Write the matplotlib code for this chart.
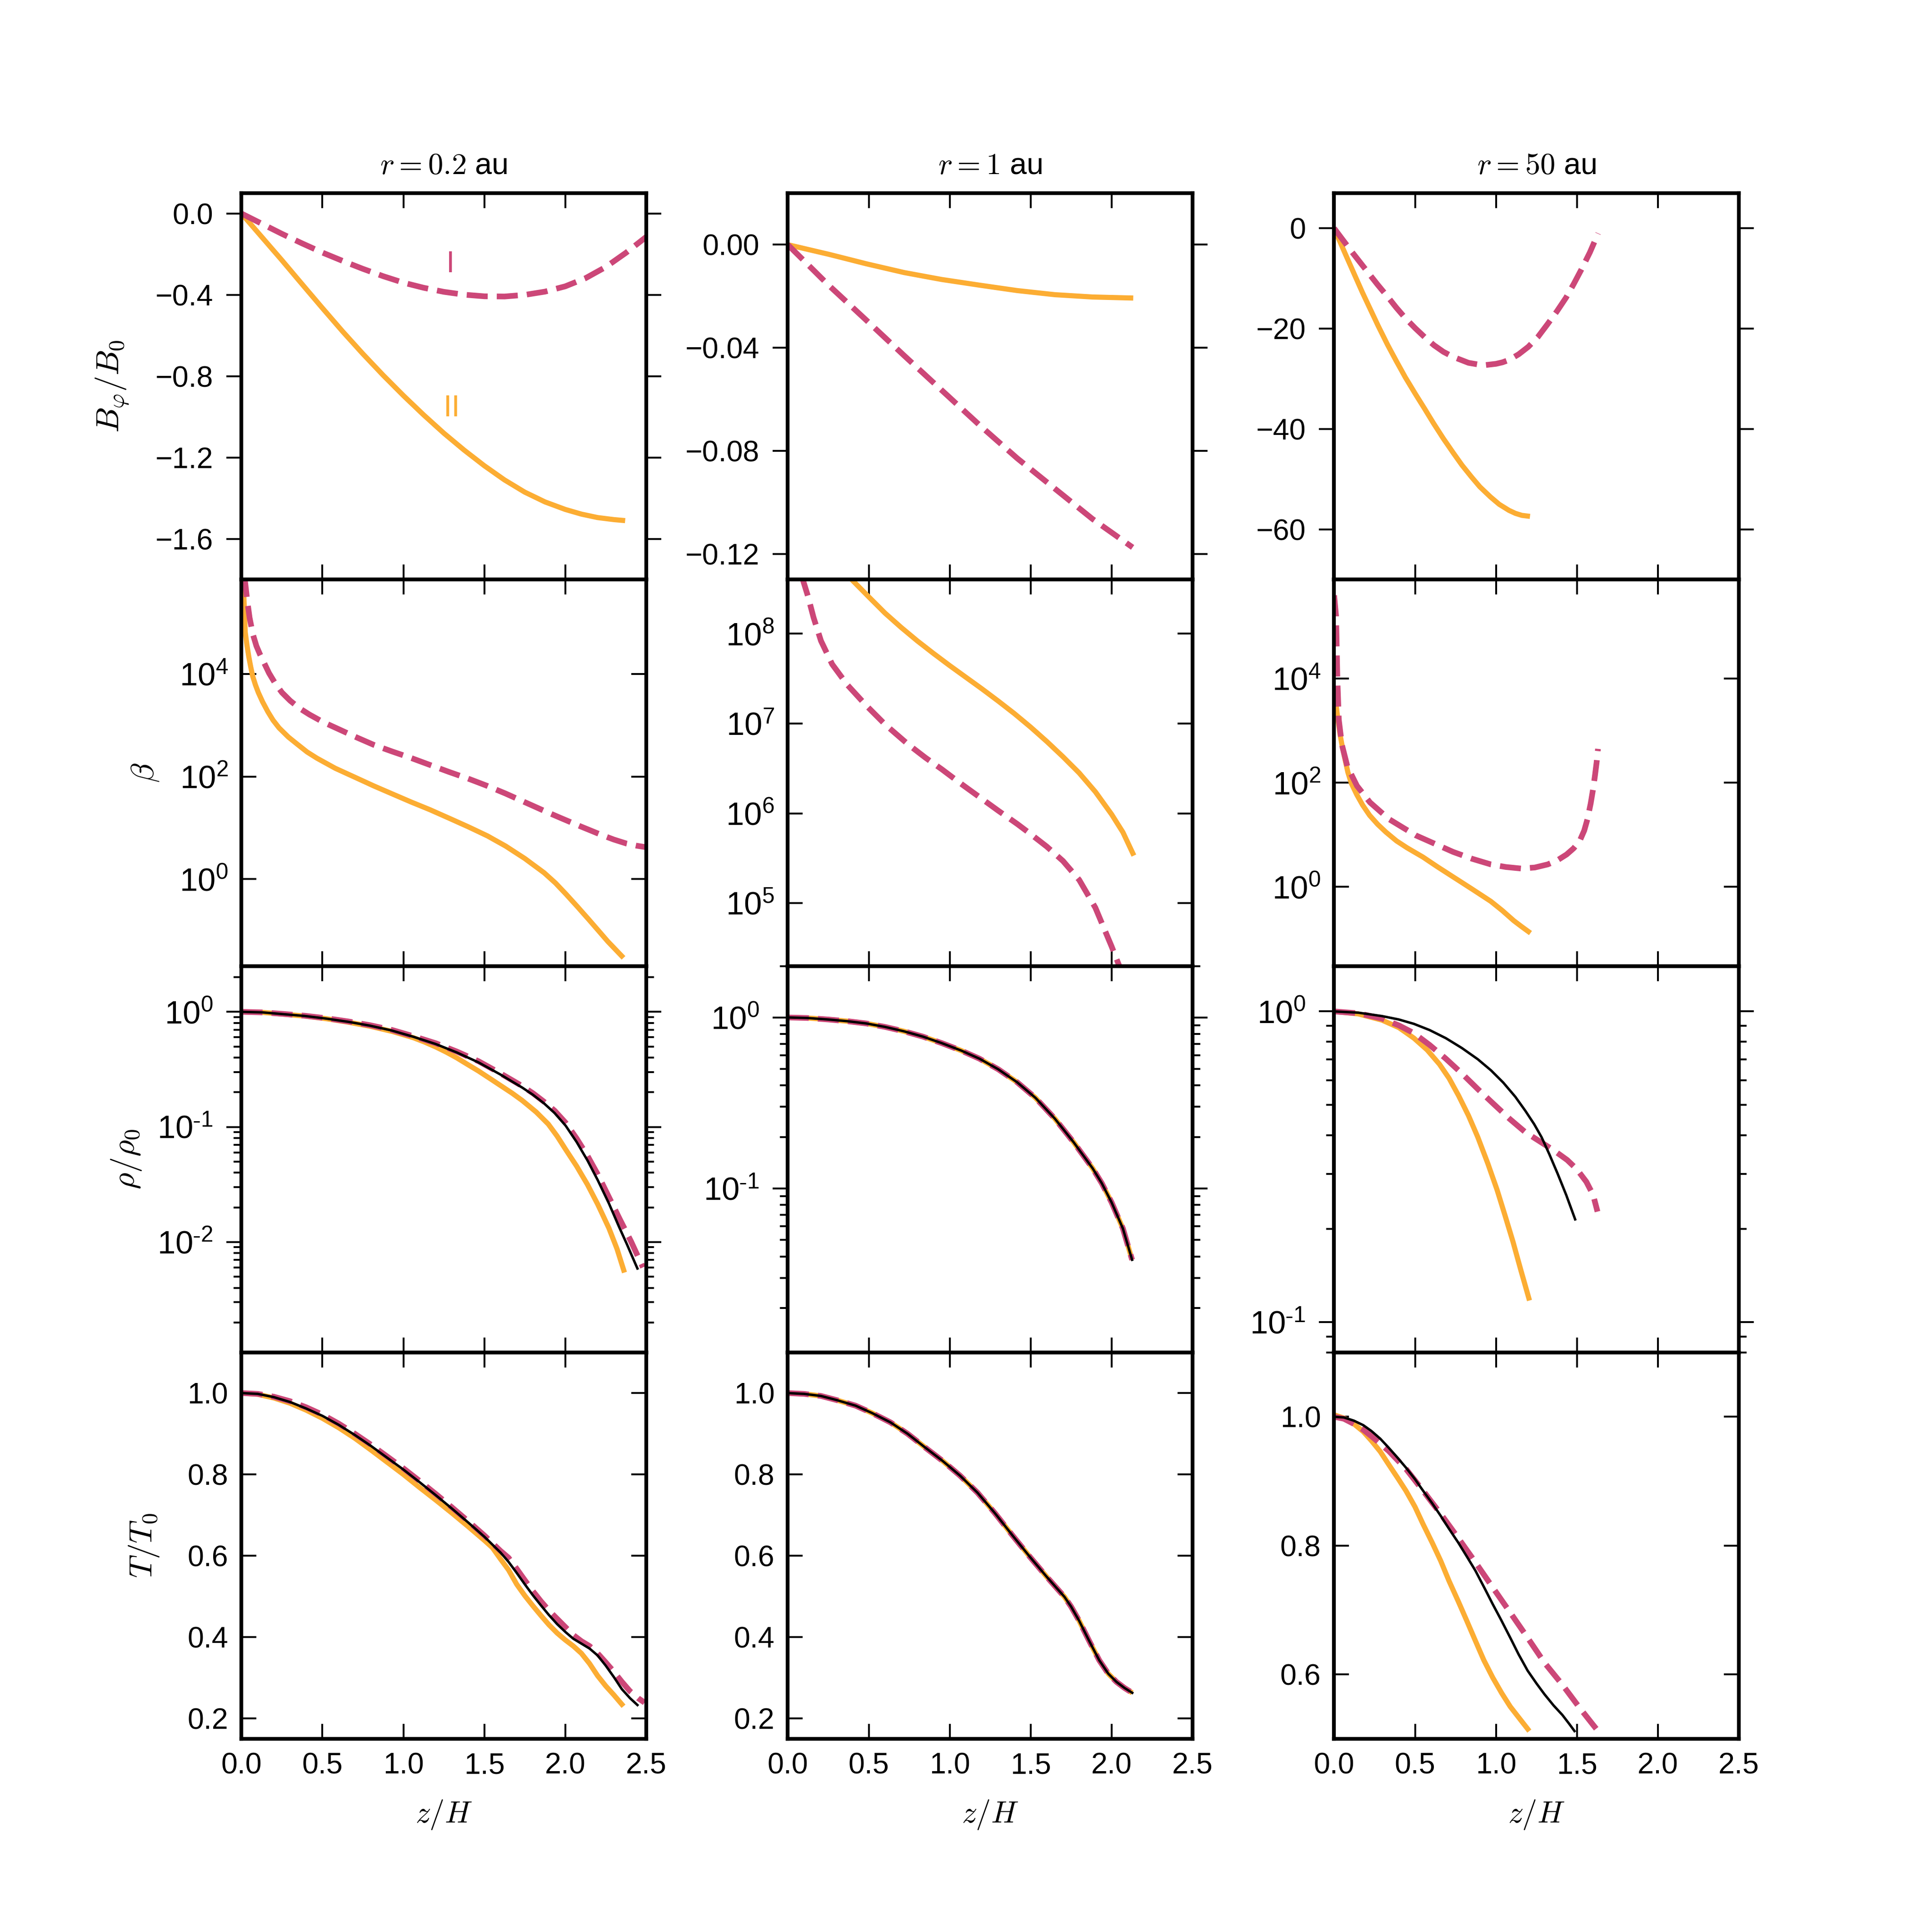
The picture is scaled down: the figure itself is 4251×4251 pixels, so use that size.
"""
Vertical profiles at three radii: B_phi, beta, density and temperature
against z/H, for solution I (dashed), solution II (solid) and the
hydrostatic reference (thin black).
"""

import numpy as np
import matplotlib
matplotlib.use("Agg")
import matplotlib.pyplot as plt
import matplotlib.ticker as mticker


YELLOW  = "#fcad33"
MAGENTA = "#cc4778"
BLACK   = "#000000"

RADII = [r"$r=0.2$ au", r"$r=1$ au", r"$r=50$ au"]
ROW_LABELS = [r"$B_\varphi/B_0$", r"$\beta$", r"$\rho/\rho_0$", r"$T/T_0$"]

# ── row 0: B_phi / B_0 ────────────────────────────────────────────────────────
bphi_02_II_z = [0, 0.125, 0.25, 0.375, 0.5, 0.625, 0.75, 0.875, 1.0, 1.125, 1.25,
                1.375, 1.5, 1.625, 1.75, 1.875, 2.0, 2.1, 2.2, 2.3, 2.37]
bphi_02_II   = [0, -0.115, -0.23, -0.348, -0.465, -0.58, -0.69, -0.795, -0.895,
                -0.99, -1.08, -1.163, -1.24, -1.31, -1.37, -1.418, -1.455,
                -1.478, -1.495, -1.505, -1.51]
bphi_02_I_z  = [0, 0.125, 0.25, 0.375, 0.5, 0.625, 0.75, 0.875, 1.0, 1.125, 1.25,
                1.375, 1.5, 1.625, 1.75, 1.875, 2.0, 2.125, 2.25, 2.375, 2.5]
bphi_02_I    = [0, -0.05, -0.1, -0.147, -0.192, -0.233, -0.272, -0.308, -0.34,
                -0.365, -0.385, -0.399, -0.407, -0.408, -0.4, -0.384, -0.358,
                -0.318, -0.263, -0.193, -0.115]

bphi_1_II_z = [0, 0.252, 0.485, 0.718, 0.951, 1.184, 1.417, 1.65, 1.883, 2.134]
bphi_1_II   = [0, -0.0037, -0.0074, -0.0108, -0.0135, -0.0157, -0.0178, -0.0194,
               -0.0203, -0.0207]
bphi_1_I_z  = [0, 0.252, 0.485, 0.718, 0.951, 1.184, 1.417, 1.65, 1.883, 2.13]
bphi_1_I    = [0, -0.0157, -0.0293, -0.043, -0.0565, -0.070, -0.0829, -0.0947,
               -0.1065, -0.1175]

bphi_50_II_z = [0, 0.08, 0.175, 0.27, 0.33, 0.385, 0.44, 0.5, 0.56, 0.615, 0.675,
                0.735, 0.79, 0.85, 0.9, 0.965, 1.02, 1.08, 1.12, 1.16, 1.21]
bphi_50_II   = [0, -5.9, -12.8, -19.3, -23.2, -26.5, -29.7, -32.9, -36.0, -38.9,
                -41.9, -44.7, -47.2, -49.6, -51.5, -53.5, -55.0, -56.2, -56.8,
                -57.2, -57.4]
bphi_50_I_z  = [0, 0.105, 0.19, 0.268, 0.33, 0.384, 0.44, 0.501, 0.56, 0.617,
                0.675, 0.734, 0.83, 0.92, 1.0, 1.04, 1.083, 1.14, 1.2, 1.26, 1.316,
                1.375, 1.433, 1.48, 1.526, 1.58, 1.631]
bphi_50_I    = [0, -4.5, -8.0, -11.2, -13.6, -15.8, -17.9, -19.9, -21.7, -23.3,
                -24.6, -25.6, -26.8, -27.3, -27.0, -26.7, -26.2, -25.1, -23.6,
                -21.6, -19.2, -16.6, -13.8, -11.1, -8.3, -4.8, -1.0]

# ── row 1: plasma beta (log10 values) ─────────────────────────────────────────
beta_02_II_z = [0, 0.01, 0.023, 0.034, 0.045, 0.057, 0.069, 0.086, 0.104, 0.13,
                0.162, 0.195, 0.232, 0.29, 0.349, 0.405, 0.465, 0.58, 0.698, 0.815,
                0.932, 1.05, 1.166, 1.28, 1.40, 1.52, 1.633, 1.75, 1.87, 1.94,
                2.006, 2.075, 2.145, 2.2, 2.263, 2.36]
beta_02_II_log = [6.5, 5.9, 4.82, 4.56, 4.34, 4.14, 3.96, 3.79, 3.64, 3.46, 3.27,
                  3.1, 2.95, 2.77, 2.62, 2.48, 2.36, 2.16, 1.99, 1.82, 1.66, 1.50,
                  1.35, 1.19, 1.02, 0.84, 0.64, 0.40, 0.12, -0.08, -0.30, -0.54,
                  -0.79, -0.99, -1.22, -1.54]
beta_02_I_z = [0, 0.023, 0.035, 0.05, 0.07, 0.092, 0.115, 0.138, 0.17, 0.208, 0.25,
               0.301, 0.36, 0.42, 0.5, 0.583, 0.7, 0.816, 0.93, 1.05, 1.17, 1.282,
               1.4, 1.516, 1.63, 1.75, 1.87, 1.98, 2.1, 2.216, 2.3, 2.38, 2.44, 2.5]
beta_02_I_log = [6.5, 5.78, 5.45, 5.1, 4.78, 4.55, 4.38, 4.23, 4.02, 3.82, 3.64,
                 3.48, 3.33, 3.21, 3.07, 2.95, 2.78, 2.62, 2.49, 2.36, 2.22, 2.09,
                 1.96, 1.82, 1.67, 1.50, 1.33, 1.18, 1.02, 0.87, 0.77, 0.69, 0.65,
                 0.62]

beta_1_II_z = [0, 0.2, 0.396, 0.5, 0.6, 0.7, 0.8, 0.9, 1.0, 1.1, 1.2, 1.3, 1.4, 1.5,
               1.6, 1.7, 1.8, 1.9, 2.0, 2.07, 2.138]
beta_1_II_log = [9.6, 8.98, 8.6, 8.41, 8.23, 8.07, 7.92, 7.78, 7.645, 7.515, 7.385,
                 7.25, 7.11, 6.96, 6.8, 6.63, 6.45, 6.24, 5.99, 5.79, 5.53]
beta_1_I_z = [0, 0.05, 0.093, 0.124, 0.159, 0.205, 0.274, 0.368, 0.485, 0.601,
              0.742, 0.85, 0.952, 1.07, 1.185, 1.3, 1.419, 1.5, 1.6, 1.7, 1.8, 1.9,
              2.0, 2.07, 2.13]
beta_1_I_log = [9.3, 8.95, 8.6, 8.42, 8.18, 7.92, 7.66, 7.43, 7.2, 6.99, 6.77, 6.62,
                6.49, 6.33, 6.18, 6.03, 5.88, 5.77, 5.63, 5.47, 5.26, 4.95, 4.52,
                4.2, 3.9]

beta_50_II_z = [0, 0.012, 0.02, 0.036, 0.05, 0.07, 0.085, 0.106, 0.14, 0.176, 0.22,
                0.269, 0.32, 0.386, 0.45, 0.549, 0.64, 0.735, 0.85, 0.968, 1.04,
                1.109, 1.16, 1.213]
beta_50_II_log = [3.7, 3.5, 3.3, 2.94, 2.7, 2.41, 2.2, 1.99, 1.77, 1.57, 1.37, 1.20,
                  1.05, 0.88, 0.75, 0.57, 0.38, 0.19, -0.04, -0.28, -0.46, -0.65,
                  -0.77, -0.89]
beta_50_I_z = [0, 0.012, 0.02, 0.029, 0.048, 0.082, 0.141, 0.222, 0.339, 0.503,
               0.735, 0.85, 0.968, 1.06, 1.156, 1.24, 1.32, 1.38, 1.436, 1.48, 1.517,
               1.545, 1.565, 1.585, 1.6, 1.612, 1.622, 1.63]
beta_50_I_log = [5.6, 5.2, 4.0, 3.21, 2.73, 2.31, 1.94, 1.62, 1.30, 0.99, 0.67, 0.54,
                 0.43, 0.38, 0.35, 0.37, 0.43, 0.51, 0.62, 0.74, 0.88, 1.08, 1.3,
                 1.6, 1.88, 2.15, 2.4, 2.65]

# ── row 2: density (log10 of rho/rho_0) ───────────────────────────────────────
rho_02_ref_z = [0, 0.13, 0.255, 0.39, 0.524, 0.66, 0.793, 0.93, 1.062, 1.2, 1.33,
                1.465, 1.6, 1.734, 1.8, 1.868, 1.935, 2.003, 2.07, 2.137, 2.2, 2.27,
                2.33, 2.38, 2.446]
rho_02_ref_log = [0, -0.005, -0.02, -0.036, -0.059, -0.087, -0.12, -0.163, -0.217,
                  -0.28, -0.353, -0.44, -0.545, -0.658, -0.72, -0.794, -0.88, -0.99,
                  -1.13, -1.29, -1.46, -1.665, -1.86, -2.016, -2.23]
rho_02_I_z = [0, 0.13, 0.255, 0.39, 0.524, 0.66, 0.793, 0.93, 1.062, 1.2, 1.33,
              1.465, 1.6, 1.734, 1.8, 1.868, 1.935, 2.003, 2.07, 2.137, 2.2, 2.27,
              2.34, 2.406, 2.48]
rho_02_I_log = [0, -0.005, -0.018, -0.034, -0.056, -0.084, -0.116, -0.158, -0.212,
                -0.273, -0.345, -0.43, -0.535, -0.645, -0.707, -0.78, -0.86, -0.965,
                -1.1, -1.25, -1.41, -1.61, -1.81, -1.993, -2.22]
rho_02_II_z = [0, 0.13, 0.255, 0.39, 0.524, 0.66, 0.793, 0.93, 1.062, 1.13, 1.2,
               1.265, 1.33, 1.4, 1.465, 1.53, 1.6, 1.67, 1.734, 1.82, 1.895, 1.95,
               2.0, 2.07, 2.137, 2.2, 2.27, 2.32, 2.366]
rho_02_II_log = [0, -0.005, -0.02, -0.037, -0.06, -0.09, -0.125, -0.17, -0.225,
                 -0.262, -0.305, -0.35, -0.40, -0.46, -0.515, -0.575, -0.64, -0.705,
                 -0.77, -0.87, -0.975, -1.08, -1.19, -1.34, -1.5, -1.67, -1.88,
                 -2.06, -2.265]

# at 1 au the three profiles coincide
rho_1_z = [0, 0.12, 0.252, 0.37, 0.485, 0.6, 0.718, 0.835, 0.951, 1.07, 1.184, 1.3,
           1.417, 1.53, 1.65, 1.766, 1.883, 1.94, 2.0, 2.07, 2.127]
rho_1_log = [0.0, -0.003, -0.012, -0.022, -0.035, -0.055, -0.081, -0.112, -0.15,
             -0.193, -0.241, -0.303, -0.379, -0.47, -0.592, -0.73, -0.882, -0.97,
             -1.081, -1.234, -1.417]

rho_50_ref_z = [0, 0.15, 0.296, 0.4, 0.493, 0.59, 0.69, 0.79, 0.888, 0.97, 1.045,
                1.12, 1.183, 1.235, 1.282, 1.33, 1.38, 1.435, 1.489]
rho_50_ref_log = [0, -0.004, -0.015, -0.026, -0.04, -0.06, -0.086, -0.118, -0.154,
                  -0.19, -0.229, -0.275, -0.321, -0.362, -0.405, -0.46, -0.521,
                  -0.592, -0.669]
rho_50_I_z = [0, 0.15, 0.296, 0.4, 0.493, 0.59, 0.69, 0.79, 0.888, 0.99, 1.085,
              1.18, 1.282, 1.36, 1.44, 1.5, 1.558, 1.6, 1.627]
rho_50_I_log = [0, -0.006, -0.023, -0.045, -0.07, -0.108, -0.152, -0.2, -0.25, -0.3,
                -0.346, -0.388, -0.422, -0.448, -0.478, -0.508, -0.548, -0.59,
                -0.644]
rho_50_II_z = [0, 0.15, 0.296, 0.4, 0.493, 0.575, 0.651, 0.71, 0.769, 0.83, 0.888,
               0.95, 1.006, 1.055, 1.105, 1.155, 1.207]
rho_50_II_log = [0, -0.008, -0.028, -0.052, -0.086, -0.124, -0.17, -0.215, -0.271,
                 -0.335, -0.405, -0.49, -0.573, -0.655, -0.741, -0.835, -0.93]

# ── row 3: temperature ────────────────────────────────────────────────────────
temp_02_ref_z = [0, 0.1, 0.2, 0.3, 0.4, 0.5, 0.6, 0.7, 0.8, 0.9, 1.0, 1.1, 1.2, 1.3,
                 1.4, 1.5, 1.6, 1.65, 1.7, 1.75, 1.8, 1.85, 1.9, 1.95, 2.0, 2.05,
                 2.1, 2.15, 2.2, 2.25, 2.3, 2.35, 2.4, 2.446]
temp_02_ref = [1.0, 0.998, 0.99, 0.978, 0.962, 0.944, 0.922, 0.897, 0.87, 0.841,
               0.812, 0.781, 0.749, 0.716, 0.682, 0.647, 0.608, 0.585, 0.558, 0.53,
               0.503, 0.478, 0.454, 0.432, 0.413, 0.396, 0.384, 0.372, 0.355, 0.33,
               0.302, 0.272, 0.25, 0.233]
temp_02_I_z = [0, 0.1, 0.2, 0.3, 0.4, 0.5, 0.6, 0.7, 0.8, 0.9, 1.0, 1.1, 1.2, 1.3,
               1.4, 1.5, 1.6, 1.65, 1.7, 1.75, 1.8, 1.85, 1.9, 1.95, 2.0, 2.05, 2.1,
               2.15, 2.2, 2.25, 2.3, 2.35, 2.4, 2.45, 2.49]
temp_02_I = [1.0, 0.998, 0.991, 0.98, 0.965, 0.947, 0.925, 0.9, 0.873, 0.844, 0.815,
             0.784, 0.752, 0.719, 0.685, 0.65, 0.612, 0.595, 0.568, 0.54, 0.513,
             0.488, 0.465, 0.445, 0.425, 0.405, 0.39, 0.378, 0.36, 0.338, 0.315,
             0.29, 0.267, 0.25, 0.239]
temp_02_II_z = [0, 0.1, 0.2, 0.3, 0.4, 0.5, 0.6, 0.7, 0.8, 0.9, 1.0, 1.1, 1.2, 1.3,
                1.4, 1.5, 1.55, 1.6, 1.65, 1.7, 1.75, 1.8, 1.85, 1.9, 1.95, 2.0,
                2.05, 2.1, 2.15, 2.2, 2.25, 2.3, 2.36]
temp_02_II = [1.0, 0.997, 0.988, 0.975, 0.958, 0.938, 0.915, 0.889, 0.86, 0.83, 0.8,
              0.768, 0.737, 0.705, 0.672, 0.638, 0.62, 0.592, 0.565, 0.53, 0.502,
              0.477, 0.453, 0.43, 0.41, 0.393, 0.378, 0.36, 0.335, 0.305, 0.28,
              0.258, 0.23]

# at 1 au the three profiles coincide
temp_1_z = [0, 0.1, 0.204, 0.3, 0.419, 0.52, 0.634, 0.74, 0.849, 0.957, 1.064, 1.172,
            1.279, 1.386, 1.494, 1.60, 1.709, 1.75, 1.8, 1.86, 1.924, 1.98, 2.03,
            2.08, 2.128]
temp_1 = [1.0, 0.998, 0.993, 0.983, 0.969, 0.951, 0.928, 0.9, 0.866, 0.833, 0.797,
          0.755, 0.705, 0.651, 0.598, 0.548, 0.499, 0.475, 0.44, 0.392, 0.343, 0.31,
          0.29, 0.275, 0.263]

temp_50_ref_z = [0, 0.06, 0.122, 0.18, 0.23, 0.285, 0.337, 0.39, 0.444, 0.5, 0.55,
                 0.605, 0.659, 0.71, 0.766, 0.82, 0.873, 0.925, 0.98, 1.035, 1.088,
                 1.14, 1.195, 1.25, 1.30, 1.355, 1.41, 1.45, 1.485]
temp_50_ref = [1.0, 0.999, 0.994, 0.987, 0.978, 0.966, 0.952, 0.937, 0.921, 0.903,
               0.885, 0.866, 0.846, 0.826, 0.805, 0.783, 0.761, 0.736, 0.709, 0.683,
               0.657, 0.631, 0.606, 0.586, 0.569, 0.552, 0.537, 0.524, 0.512]
temp_50_I_z = [0, 0.06, 0.122, 0.18, 0.23, 0.337, 0.444, 0.55, 0.659, 0.766, 0.873,
               0.98, 1.088, 1.195, 1.3, 1.41, 1.517, 1.624]
temp_50_I = [1.0, 0.997, 0.989, 0.98, 0.97, 0.947, 0.919, 0.885, 0.849, 0.812, 0.774,
             0.735, 0.696, 0.657, 0.618, 0.584, 0.548, 0.514]
temp_50_II_z = [0, 0.06, 0.122, 0.18, 0.23, 0.285, 0.337, 0.39, 0.444, 0.5, 0.55,
                0.605, 0.659, 0.71, 0.766, 0.82, 0.873, 0.925, 0.98, 1.035, 1.088,
                1.15, 1.206]
temp_50_II = [1.003, 0.998, 0.989, 0.977, 0.963, 0.946, 0.926, 0.906, 0.885, 0.86,
              0.833, 0.805, 0.776, 0.745, 0.714, 0.683, 0.652, 0.622, 0.595, 0.571,
              0.55, 0.53, 0.512]

# axis limits per panel
YLIMS = [
    [(-1.8, 0.1), (-0.13, 0.02), (-70, 7)],
    [(0.02, 7e5), (2e4, 4e8), (0.03, 8e5)],
    [(1.1e-3, 2.5), (0.011, 2.0), (0.08, 1.4)],
    [(0.15, 1.1), (0.15, 1.1), (0.5, 1.1)],
]
YTICKS = [
    [[0.0, -0.4, -0.8, -1.2, -1.6], [0.0, -0.04, -0.08, -0.12], [0, -20, -40, -60]],
    [[1, 1e2, 1e4], [1e5, 1e6, 1e7, 1e8], [1, 1e2, 1e4]],
    [[1e-2, 1e-1, 1], [1e-1, 1], [1e-1, 1]],
    [[0.2, 0.4, 0.6, 0.8, 1.0], [0.2, 0.4, 0.6, 0.8, 1.0], [0.6, 0.8, 1.0]],
]
LIN_FMT = [["%.1f", "%.2f", "%d"], None, None, ["%.1f", "%.1f", "%.1f"]]
XTICKS = [0.0, 0.5, 1.0, 1.5, 2.0, 2.5]
# y ticks point out on rows 0 and 2, in on rows 1 and 3
YTICK_DIR = ["out", "in", "out", "in"]
# y-label position (axes fraction) for the left column, one per row
YLABEL_X = [-0.275, -0.20, -0.243, -0.199]


def _log_label(v, _pos):
    e = int(round(np.log10(v)))
    exp = str(e) if e >= 0 else r"\text{-}%d" % (-e)
    return r"$\mathregular{10^{%s}}$" % exp


def _lin_formatter(fmt):
    def _f(v, _pos):
        s = fmt % v
        if s.lstrip("-").strip("0.") == "":
            s = s.lstrip("-")
        return s.replace("-", "\u2212")
    return mticker.FuncFormatter(_f)


def _pow(vals):
    return 10.0 ** np.asarray(vals)


plt.rcParams.update({
    "font.family": "Liberation Sans",
    "mathtext.fontset": "cm",
    "font.size": 15.5,
    "axes.linewidth": 2.0,
    "xtick.major.width": 1.0,
    "ytick.major.width": 1.0,
    "ytick.minor.width": 1.0,
})

fig, axes = plt.subplots(4, 3, figsize=(14.17, 14.17))
fig.subplots_adjust(left=0.125, right=0.9, bottom=0.1, top=0.9,
                    wspace=0.35, hspace=0.0)

# (row, col) -> list of (z, values, style)
series = {
    (0, 0): [(bphi_02_II_z, bphi_02_II, "II"), (bphi_02_I_z, bphi_02_I, "I")],
    (0, 1): [(bphi_1_II_z, bphi_1_II, "II"), (bphi_1_I_z, bphi_1_I, "I")],
    (0, 2): [(bphi_50_II_z, bphi_50_II, "II"), (bphi_50_I_z, bphi_50_I, "I")],
    (1, 0): [(beta_02_II_z, _pow(beta_02_II_log), "II"),
             (beta_02_I_z, _pow(beta_02_I_log), "I")],
    (1, 1): [(beta_1_II_z, _pow(beta_1_II_log), "II"),
             (beta_1_I_z, _pow(beta_1_I_log), "I")],
    (1, 2): [(beta_50_II_z, _pow(beta_50_II_log), "II"),
             (beta_50_I_z, _pow(beta_50_I_log), "I")],
    (2, 0): [(rho_02_II_z, _pow(rho_02_II_log), "II"),
             (rho_02_I_z, _pow(rho_02_I_log), "I"),
             (rho_02_ref_z, _pow(rho_02_ref_log), "ref")],
    (2, 1): [(rho_1_z, _pow(rho_1_log), "II"), (rho_1_z, _pow(rho_1_log), "I"),
             (rho_1_z, _pow(rho_1_log), "ref")],
    (2, 2): [(rho_50_II_z, _pow(rho_50_II_log), "II"),
             (rho_50_I_z, _pow(rho_50_I_log), "I"),
             (rho_50_ref_z, _pow(rho_50_ref_log), "ref")],
    (3, 0): [(temp_02_II_z, temp_02_II, "II"), (temp_02_I_z, temp_02_I, "I"),
             (temp_02_ref_z, temp_02_ref, "ref")],
    (3, 1): [(temp_1_z, temp_1, "II"), (temp_1_z, temp_1, "I"),
             (temp_1_z, temp_1, "ref")],
    (3, 2): [(temp_50_II_z, temp_50_II, "II"), (temp_50_I_z, temp_50_I, "I"),
             (temp_50_ref_z, temp_50_ref, "ref")],
}

STYLE = {
    "II":  dict(color=YELLOW, lw=2.7, ls="-", solid_capstyle="butt"),
    "I":   dict(color=MAGENTA, lw=3.0, ls="--"),
    "ref": dict(color=BLACK, lw=1.3, ls="-"),
}

for (row, col), lines in series.items():
    ax = axes[row, col]
    for z, v, kind in lines:
        ax.plot(z, v, **STYLE[kind])

    ax.set_xlim(0, 2.5)
    ax.set_xticks(XTICKS)

    if row in (1, 2):
        ax.set_yscale("log")
        ax.set_ylim(*YLIMS[row][col])
        ax.yaxis.set_major_locator(mticker.FixedLocator(YTICKS[row][col]))
        ax.yaxis.set_major_formatter(mticker.FuncFormatter(_log_label))
        if row == 1:
            ax.yaxis.set_minor_locator(mticker.NullLocator())
        else:
            ax.yaxis.set_minor_locator(
                mticker.LogLocator(base=10, subs=np.arange(2, 10), numticks=20))
            ax.yaxis.set_minor_formatter(mticker.NullFormatter())
        ylabsize = 17
    else:
        ax.set_ylim(*YLIMS[row][col])
        ax.set_yticks(YTICKS[row][col])
        ax.yaxis.set_major_formatter(_lin_formatter(LIN_FMT[row][col]))
        ylabsize = 15.5

    ydir = YTICK_DIR[row]
    ax.tick_params(axis="x", which="both", direction="in", top=True, bottom=True,
                   length=8, width=1, pad=7, labelsize=15.5)
    ax.tick_params(axis="y", which="major", direction=ydir, left=True, right=True,
                   length=8, width=1, pad=7, labelsize=ylabsize)
    ax.tick_params(axis="y", which="minor", direction=ydir, left=True, right=True,
                   length=4, width=1)

    if row < 3:
        ax.tick_params(axis="x", labelbottom=False)
    else:
        ax.xaxis.set_major_formatter(mticker.FormatStrFormatter("%.1f"))
        ax.set_xlabel(r"$z/H$", fontsize=16, labelpad=10)

    if row == 0:
        ax.set_title(RADII[col], fontsize=16, pad=10)
    if col == 0:
        ax.set_ylabel(ROW_LABELS[row], fontsize=17)
        ax.yaxis.set_label_coords(YLABEL_X[row], 0.5)

# curve labels in the first panel
axes[0, 0].text(1.29, -0.25, "I", color=MAGENTA, fontsize=16,
                ha="center", va="center")
axes[0, 0].text(1.30, -0.96, "II", color=YELLOW, fontsize=16,
                ha="center", va="center")

fig.savefig("out.png", dpi=300)
